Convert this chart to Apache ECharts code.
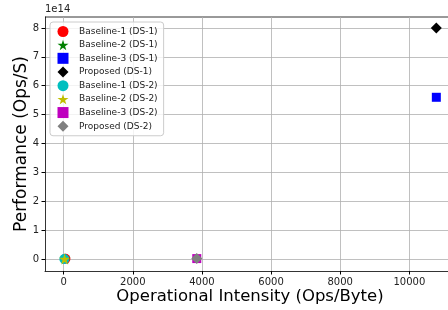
<!DOCTYPE html>
<html>
  <head>
    <meta charset="UTF-8" />
    <title></title>
    <style type="text/css">
      html,
      body {
        width: 100%;
        height: 100%;
        margin: 0;
        padding: 0;
        overflow: hidden;
        background: #fff;
      }
      #chart {
        width: 448px;
        height: 310px;
      }
    </style>
  </head>
  <body>
    <div id="chart"></div>
    <script src="https://cdn.jsdelivr.net/npm/echarts@6/dist/echarts.min.js"></script>
    <script type="text/javascript">
      // legend names
      const seriesNames = [
        "Baseline-1 (DS-1)",
        "Baseline-2 (DS-1)",
        "Baseline-3 (DS-1)",
        "Proposed (DS-1)",
        "Baseline-1 (DS-2)",
        "Baseline-2 (DS-2)",
        "Baseline-3 (DS-2)",
        "Proposed (DS-2)",
      ];
      // operational intensity (Ops/Byte)
      const intensity = [50, 40, 10780, 10780, 20, 25, 3850, 3850];
      // performance (Ops/S)
      const performance = [1.0e12, 0.8e12, 5.6e14, 8.0e14, 0.3e12, 0.4e12, 1.5e12, 1.6e12];

      const xTicks = [0, 2000, 4000, 6000, 8000, 10000];
      const yTicks = [0, 1e14, 2e14, 3e14, 4e14, 5e14, 6e14, 7e14, 8e14];

      const colors = ["#ff0000", "#008000", "#0000ff", "#000000", "#00bfbf", "#bfbf00", "#bf00bf", "#808080"];
      const starPath = "path://M50,0 L61,35 L98,35 L68,57 L79,91 L50,70 L21,91 L32,57 L2,35 L39,35 Z";
      const symbols = ["circle", starPath, "rect", "diamond", "circle", starPath, "rect", "diamond"];
      const sizes = [10, 11, 9, 11, 10, 11, 9, 11];

      const font = "DejaVu Sans";
      const chart = echarts.init(document.getElementById("chart"));

      const series = seriesNames.map((name, i) => ({
        name: name,
        type: "scatter",
        symbol: symbols[i],
        symbolSize: sizes[i],
        itemStyle: { color: colors[i], opacity: 1 },
        data: [[intensity[i], performance[i]]],
      }));

      chart.setOption({
        animation: false,
        backgroundColor: "#fff",
        textStyle: { fontFamily: font },
        grid: { left: 45, top: 17, width: 410, height: 254, show: false, outerBoundsMode: "none" },
        legend: {
          orient: "vertical",
          left: 50,
          top: 22,
          data: seriesNames.map((n, i) => ({ name: n, icon: symbols[i] })),
          itemWidth: 11,
          itemHeight: 11,
          itemGap: 2.7,
          padding: [4, 6, 4, 7.5],
          backgroundColor: "rgba(255,255,255,0.8)",
          borderColor: "#cccccc",
          borderWidth: 1,
          borderRadius: 3,
          textStyle: { fontFamily: font, fontSize: 9, color: "#222", padding: [0, 0, 0, 5.5] },
        },
        xAxis: {
          type: "value",
          min: -540,
          max: 11320,
          name: "Operational Intensity (Ops/Byte)",
          nameLocation: "middle",
          nameGap: 17,
          nameMoveOverlap: false,
          nameTextStyle: { fontFamily: font, fontSize: 16.5, color: "#000", verticalAlign: "top" },
          axisLine: { onZero: false, lineStyle: { color: "#000", width: 0.8 } },
          axisTick: { show: true, customValues: xTicks, length: 3.5, lineStyle: { color: "#000" } },
          axisLabel: {
            customValues: xTicks,
            fontSize: 10,
            color: "#222",
            margin: 6,
            formatter: (v) => String(v),
          },
          splitLine: { show: true, lineStyle: { color: "#b0b0b0", width: 0.8 } },
        },
        yAxis: {
          type: "value",
          min: -0.415e14,
          max: 8.38e14,
          name: "Performance (Ops/S)",
          nameLocation: "middle",
          nameRotate: 90,
          nameGap: 15,
          nameMoveOverlap: false,
          nameTextStyle: { fontFamily: font, fontSize: 17, color: "#000", verticalAlign: "bottom" },
          axisLine: { show: true, onZero: false, lineStyle: { color: "#000", width: 0.8 } },
          axisTick: { show: true, customValues: yTicks, length: 3.5, lineStyle: { color: "#000" } },
          axisLabel: {
            customValues: yTicks,
            fontSize: 10,
            color: "#222",
            margin: 6,
            formatter: (v) => String(Math.round(v / 1e14)),
          },
          splitLine: { show: true, lineStyle: { color: "#b0b0b0", width: 0.8 } },
        },
        graphic: [
          {
            type: "text",
            left: 45,
            top: 4,
            style: { text: "1e14", fontFamily: font, fontSize: 10, fill: "#222" },
          },
          {
            type: "line",
            shape: { x1: 45, y1: 17, x2: 448, y2: 17 },
            style: { stroke: "#000", lineWidth: 0.8 },
          },
        ],
        series: series,
      });
    </script>
  </body>
</html>
